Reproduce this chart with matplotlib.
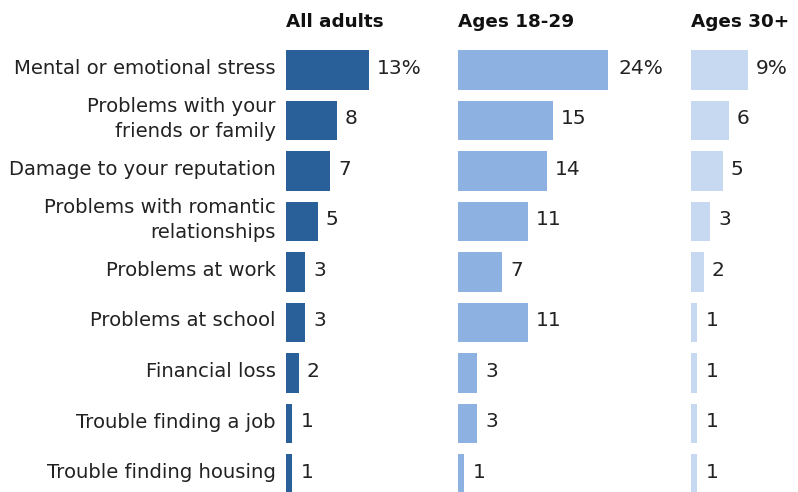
import matplotlib.pyplot as plt

plt.rcParams['font.family'] = ['DejaVu Sans']

# Share of people reporting each consequence, by age group
categories = [
    'Mental or emotional stress',
    'Problems with your\nfriends or family',
    'Damage to your reputation',
    'Problems with romantic\nrelationships',
    'Problems at work',
    'Problems at school',
    'Financial loss',
    'Trouble finding a job',
    'Trouble finding housing',
]
all_adults = [13, 8, 7, 5, 3, 3, 2, 1, 1]
ages_18_29 = [24, 15, 14, 11, 7, 11, 3, 3, 1]
ages_30_plus = [9, 6, 5, 3, 2, 1, 1, 1, 1]

panel_titles = ['All adults', 'Ages 18-29', 'Ages 30+']
panel_values = [all_adults, ages_18_29, ages_30_plus]
panel_colors = ['#2A6099', '#8DB1E0', '#C6D9F0']
panel_left_px = [286, 458, 691]

W, H = 798, 492
px_per_unit = 6.35
row_h = 50.5
top_px = 44.75
n = len(categories)

fig = plt.figure(figsize=(W / 100, H / 100), dpi=100)

for k, (title, vals, color, left) in enumerate(
        zip(panel_titles, panel_values, panel_colors, panel_left_px)):
    width_px = 150
    ax = fig.add_axes([left / W, 1 - (top_px + n * row_h) / H,
                       width_px / W, n * row_h / H])
    ax.set_xlim(0, width_px / px_per_unit)
    ax.set_ylim(n - 0.5, -0.5)
    ax.barh(range(n), vals, height=0.79, color=color)
    for i, v in enumerate(vals):
        txt = f'{v}%' if i == 0 else f'{v}'
        ax.text(v + 8 / px_per_unit, i - 0.03, txt, va='center', ha='left',
                fontsize=14.5, color='#222222')
    ax.axis('off')
    fig.text(left / W, 1 - 22 / H, title, ha='left', va='center',
             fontsize=13.2, fontweight='bold', color='#111111')

    if k == 0:
        for i, cat in enumerate(categories):
            y_px = top_px + (i + 0.5) * row_h - 1.5
            fig.text(276 / W, 1 - y_px / H, cat, ha='right', va='center',
                     fontsize=14.1, color='#222222', linespacing=1.4)

fig.savefig('out.png', dpi=100)
